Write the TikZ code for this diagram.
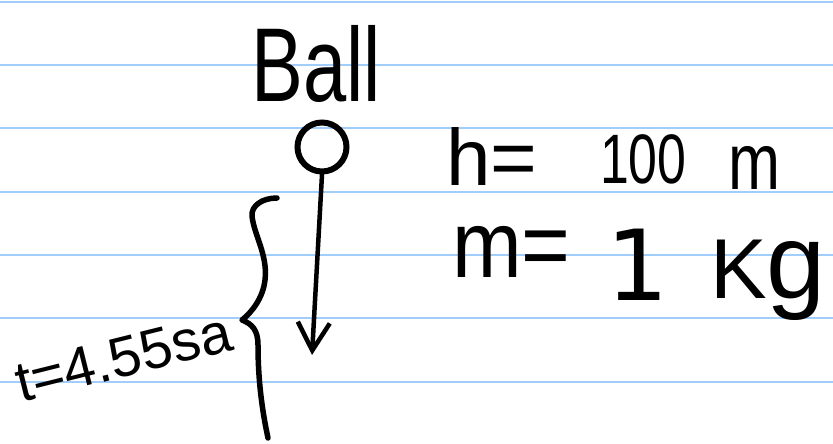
\documentclass[tikz,border=0pt]{standalone}
\usepackage{fontspec}
\setmainfont{Liberation Sans}
\newfontfamily\dejavu{DejaVu Sans}
\usetikzlibrary{arrows.meta}
\definecolor{rulecol}{RGB}{160,205,250}
\begin{document}
\begin{tikzpicture}[x=1pt,y=-1pt,
  ruleline/.style={draw=rulecol,line width=2pt},
  hand/.style={inner sep=0pt,outer sep=0pt,text=black},
  ink/.style={draw=black,line width=5.5pt,line cap=round,line join=round}]
\useasboundingbox (0,0) rectangle (833,444);
\fill[white] (0,0) rectangle (833,444);
\foreach \yy in {2,65,128,192,255,318,382} \draw[ruleline] (0,\yy) -- (833,\yy);

% title
\node[hand,anchor=base,font=\fontsize{105}{105}\selectfont] (title) at (316,102) {\scalebox{0.74}[1]{Ball}};

% ball and fall arrow
\node[draw,circle,line width=6pt,minimum size=49pt,inner sep=0pt] (ball) at (322,147) {};
\coordinate (tip) at (312,355);
\draw[ink,line width=4.5pt,-{Straight Barb[length=28pt,width=32pt]}] (ball.south) -- (tip);

% brace
\draw[ink] (277,198) .. controls (262,198) and (251,206) .. (252,216)
  .. controls (254,235) and (268,255) .. (265,280)
  .. controls (263,298) and (252,312) .. (242,320)
  .. controls (252,324) and (258,330) .. (258,345)
  .. controls (258,380) and (262,410) .. (268,438);

% time label
\node[hand,anchor=base,rotate=14,font=\fontsize{57}{57}\selectfont] (time) at (128,376) {t=4.55sa};

% data
\node[hand,anchor=base west,font=\fontsize{80}{80}\selectfont] (hval) at (446,185) {h=};
\node[hand,anchor=base west,font=\fontsize{70}{70}\selectfont] (hnum) at (600,183) {\scalebox{0.74}[1]{100}};
\node[hand,anchor=base west,font=\fontsize{80}{80}\selectfont] (hunit) at (728,189) {\scalebox{0.78}[1]{m}};
\node[hand,anchor=base west,font=\fontsize{95}{95}\selectfont] (mval) at (452,277) {\scalebox{0.88}[1]{m=}};
\node[hand,anchor=base west,font=\dejavu\fontsize{98}{98}\selectfont] (mnum) at (606,300) {1};
\node[hand,anchor=base west,font=\fontsize{85}{85}\selectfont] (munit) at (710,298) {K\scalebox{1.25}{g}};
\end{tikzpicture}
\end{document}
